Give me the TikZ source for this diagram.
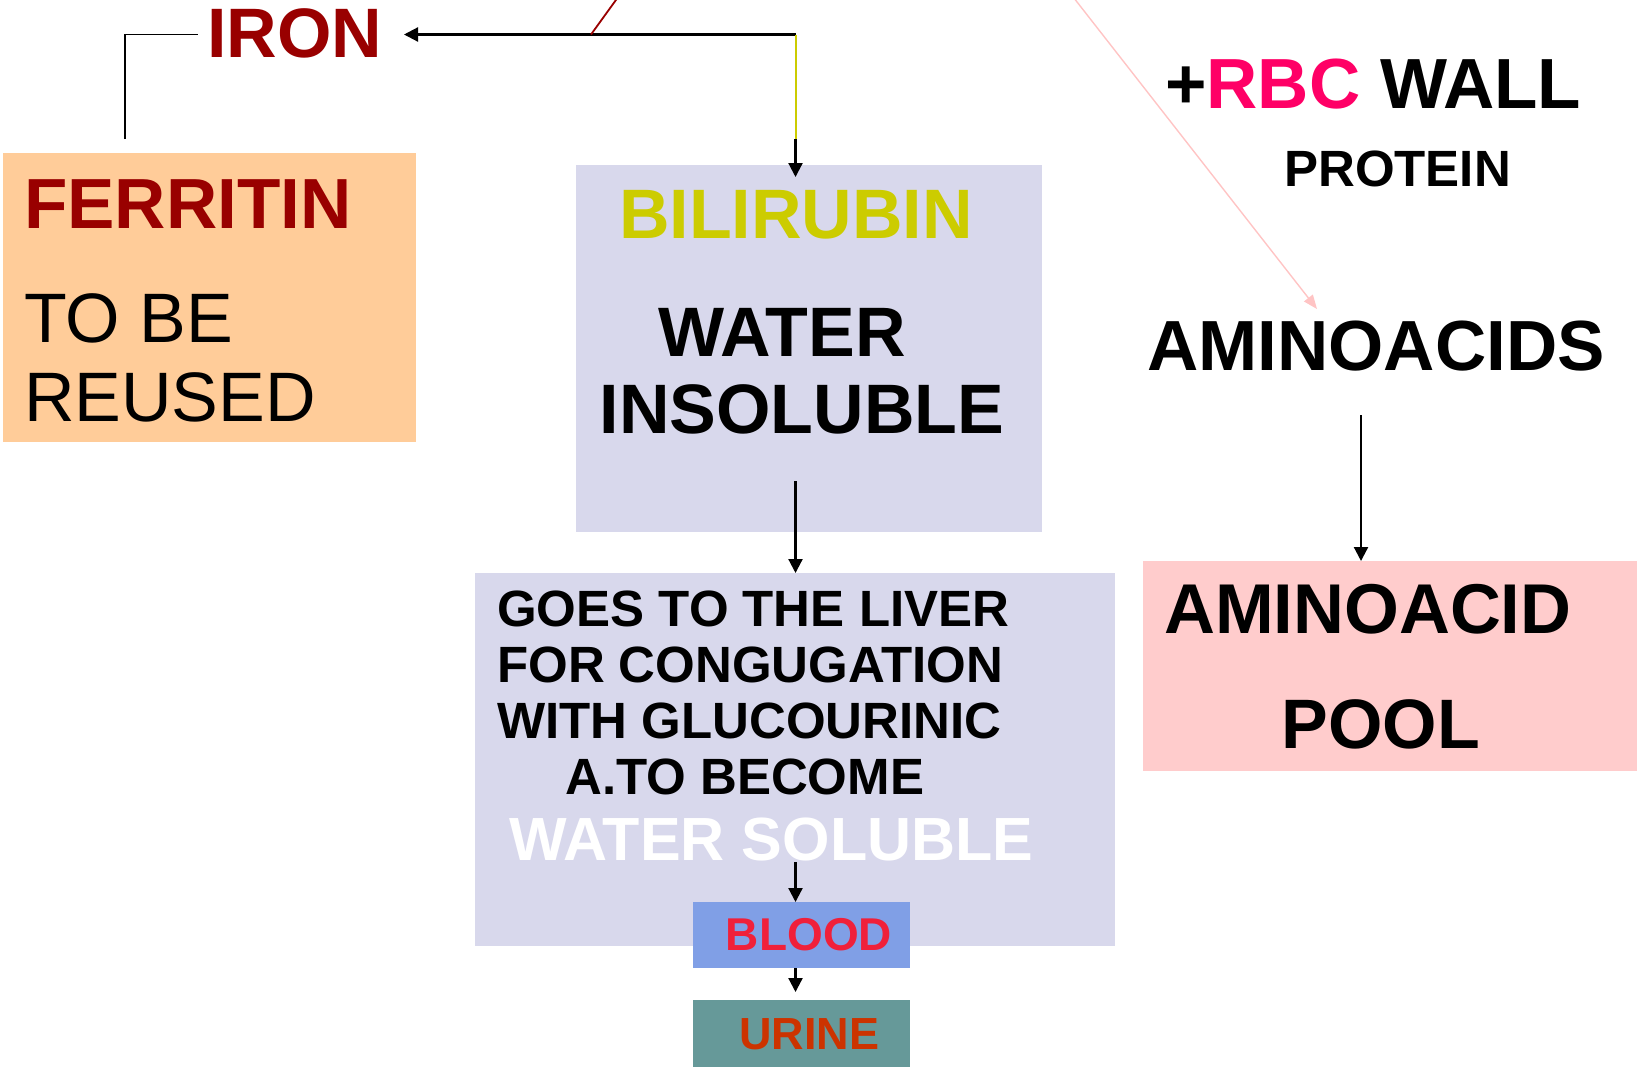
\documentclass[tikz,border=0pt]{standalone}
\usepackage{fontspec}
\setmainfont{Liberation Sans}
\usetikzlibrary{arrows.meta}

\definecolor{ironred}{HTML}{990000}
\definecolor{ferfill}{HTML}{FFCC99}
\definecolor{lavender}{HTML}{D8D8EC}
\definecolor{biliyellow}{HTML}{CCCC00}
\definecolor{rbcpink}{HTML}{FF0066}
\definecolor{poolfill}{HTML}{FFCCCC}
\definecolor{bloodfill}{HTML}{809FE6}
\definecolor{bloodred}{HTML}{F0203A}
\definecolor{urinefill}{HTML}{669999}
\definecolor{urinetext}{HTML}{CC3300}
\definecolor{pinkline}{HTML}{FFC4C4}

\newcommand\fsz[1]{\fontsize{#1}{#1}\selectfont}

\tikzset{
  panel/.style={draw=none, inner sep=0pt, anchor=north west},
  lbl/.style={inner sep=0pt, anchor=base west},
  clbl/.style={inner sep=0pt, anchor=base},
  flow/.style={line width=2.2pt, draw=black,
    -{Triangle[length=14pt,width=14pt]}},
  plain/.style={line width=1.8pt, draw=black},
}

\begin{document}
\begin{tikzpicture}[x=1pt, y=-1pt]
\useasboundingbox (0,0) rectangle (1637,1066);
\clip (0,0) rectangle (1637,1066);

% coloured panels
\node[panel, fill=ferfill, minimum width=413pt, minimum height=289pt] (fer) at (3,153) {};
\node[panel, fill=lavender, minimum width=466pt, minimum height=367pt] (bili) at (576,165) {};
\node[panel, fill=lavender, minimum width=640pt, minimum height=373pt] (liver) at (475,573) {};
\node[panel, fill=bloodfill, minimum width=217pt, minimum height=66pt] (blood) at (693,902) {};
\node[panel, fill=urinefill, minimum width=217pt, minimum height=80pt] (urine) at (693,1000) {};
\node[panel, fill=poolfill, minimum width=510pt, minimum height=210pt] (pool) at (1143,561) {};

% labels
\node[clbl, font=\fsz{70}\bfseries, text=ironred] (iron) at (295,57) {IRON};

\node[lbl, font=\fsz{71}\bfseries, text=ironred] (ferritin) at (24,228) {FERRITIN};
\node[lbl, font=\fsz{70}] (tobe) at (24,342) {TO BE};
\node[lbl, font=\fsz{70}] (reused) at (24,421) {REUSED};

\node[clbl, font=\fsz{70}\bfseries, text=biliyellow] (bilitxt) at (796,238) {BILIRUBIN};
\node[clbl, font=\fsz{70}\bfseries] (water) at (782,356) {WATER};
\node[clbl, font=\fsz{70}\bfseries] (insol) at (802,433) {INSOLUBLE};

\node[lbl, font=\fsz{51}\bfseries] (l1) at (497,626) {GOES TO THE LIVER};
\node[lbl, font=\fsz{51}\bfseries] (l2) at (497,682) {FOR CONGUGATION};
\node[lbl, font=\fsz{51}\bfseries] (l3) at (497,738) {WITH GLUCOURINIC};
\node[lbl, font=\fsz{51}\bfseries] (l4) at (565,794) {A.TO BECOME};
\node[lbl, font=\fsz{61}\bfseries, text=white] (wsol) at (509,860) {WATER SOLUBLE};

\node[clbl, font=\fsz{46}\bfseries, text=bloodred] (bloodtxt) at (809,950) {BLOOD};
\node[clbl, font=\fsz{45}\bfseries, text=urinetext] (urinetxt) at (809.5,1049) {URINE};

\node[lbl, font=\fsz{71}\bfseries] (rbc) at (1165,108) {+\textcolor{rbcpink}{RBC} WALL};
\node[lbl, font=\fsz{51}\bfseries] (protein) at (1284,186) {PROTEIN};
\node[lbl, font=\fsz{71}\bfseries] (amino) at (1147,370) {AMINOACIDS};
\node[lbl, font=\fsz{70.5}\bfseries] (aatxt) at (1164,633) {AMINOACID};
\node[clbl, font=\fsz{70}\bfseries] (pooltxt) at (1381,748) {POOL};

% connector end points
\coordinate (junc) at (795.5,34.5);
\coordinate (ironin) at (404,34.5);
\coordinate (ironout) at (198,34.5);
\coordinate (ferup) at (125,139);
\coordinate (yelend) at (795.5,139);
\coordinate (bilitip) at (795.5,177);
\coordinate (bilout) at (795.5,481);
\coordinate (wsolout) at (795.5,862);
\coordinate (urtip) at (795.5,992);
\coordinate (redfoot) at (591,34.5);
\coordinate (redtop) at (621,-7);
\coordinate (pinktop) at (1070,-7);
\coordinate (pinktip) at (1317,309);
\coordinate (aaout) at (1361,415);

% iron branch
\draw[plain] (ferup) |- (ironout);
\draw[flow] (junc) -- (ironin);
\draw[line width=1.8pt, draw=ironred] (redfoot) -- (redtop);

% bilirubin chain
\draw[line width=2pt, draw=biliyellow] (junc) -- (yelend);
\draw[flow] (yelend) -- (bilitip);
\draw[flow] (bilout) -- (liver.north -| junc);
\draw[flow] (wsolout) -- (blood.north -| junc);
\draw[flow] (blood.south -| junc) -- (urtip);

% protein branch
\draw[line width=1.4pt, draw=pinkline, -{Triangle[length=14pt,width=11pt]}] (pinktop) -- (pinktip);
\draw[flow] (aaout) -- (pool.north -| aaout);
\end{tikzpicture}
\end{document}
